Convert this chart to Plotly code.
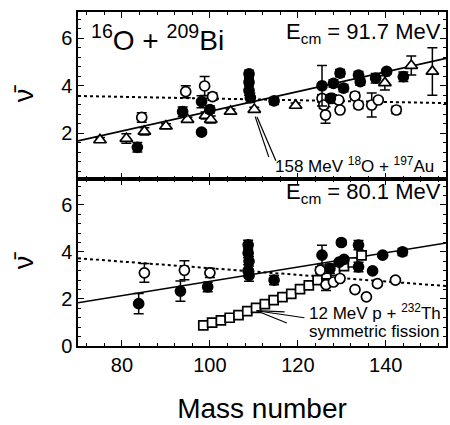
import plotly.graph_objects as go
from plotly.subplots import make_subplots

# ---- 16O + 209Bi at E_cm = 91.7 MeV (upper panel) ----
top_filled_mass = [83.5, 93.8, 98.1, 98.1, 100.0, 108.9, 108.9, 108.9, 109.2, 114.6,
                   125.5, 127.4, 128.1, 129.6, 130.4, 133.8, 134.2, 137.7, 140.2, 144.0]
top_filled_nu = [1.41, 2.91, 3.33, 2.05, 3.00, 4.50, 4.15, 3.80, 3.50, 3.36,
                 4.00, 3.47, 4.10, 4.53, 3.90, 4.45, 4.17, 4.32, 4.60, 4.38]
top_filled_err = [0.2, 0.2, 0.25, 0.1, 0.15, 0.15, 0.15, 0.2, 0.2, 0.15,
                  0.85, 0.1, 0.15, 0.15, 0.15, 0.15, 0.15, 0.2, 0.1, 0.2]

top_open_mass = [84.5, 94.5, 98.8, 100.6, 125.5, 126.3, 125.9, 127.8, 129.3, 129.6,
                 133.0, 133.8, 136.8, 138.3, 142.4]
top_open_nu = [2.67, 3.75, 3.99, 3.54, 3.47, 2.77, 3.19, 3.47, 3.40, 2.98,
               3.57, 3.19, 3.19, 3.40, 2.98]
top_open_err = [0.2, 0.25, 0.4, 0.15, 0.15, 0.35, 0.15, 0.15, 0.1, 0.1,
                0.15, 0.15, 0.5, 0.1, 0.15]

# 158 MeV 18O + 197Au
au_mass = [75.0, 81.0, 85.1, 90.0, 94.9, 99.0, 100.2, 104.7, 110.1, 119.5, 139.8, 145.8, 150.6]
au_nu = [1.72, 1.78, 2.08, 2.30, 2.58, 2.75, 2.58, 2.92, 3.00, 3.17, 4.12, 4.85, 4.60]
au_err = [0.1, 0.2, 0.15, 0.1, 0.1, 0.15, 0.15, 0.1, 0.1, 0.1, 0.3, 0.4, 1.0]

# ---- 16O + 209Bi at E_cm = 80.1 MeV (lower panel) ----
bot_filled_mass = [83.8, 93.3, 99.5, 108.7, 108.7, 108.9, 108.7, 108.9, 114.6, 125.5,
                   127.3, 129.9, 129.4, 130.5, 133.8, 133.8, 137.0, 139.3, 143.8]
bot_filled_nu = [1.80, 2.33, 2.51, 4.30, 3.95, 3.60, 3.20, 3.00, 2.80, 3.86,
                 3.29, 4.40, 3.57, 3.68, 4.29, 3.36, 3.19, 3.86, 4.00]
bot_filled_err = [0.43, 0.43, 0.2, 0.2, 0.2, 0.2, 0.25, 0.25, 0.2, 0.42,
                  0.2, 0.1, 0.1, 0.1, 0.2, 0.2, 0.0, 0.1, 0.15]

bot_open_mass = [85.1, 94.2, 100.0, 125.1, 126.4, 128.1, 129.6, 133.0, 135.6, 138.1, 142.2]
bot_open_nu = [3.11, 3.22, 3.11, 3.22, 2.61, 2.72, 2.87, 2.40, 2.09, 2.65, 2.80]
bot_open_err = [0.4, 0.4, 0.2, 0.15, 0.25, 0.1, 0.1, 0.1, 0.0, 0.1, 0.1]

# 12 MeV p + 232Th, symmetric fission
th_mass = [98.5, 100.5, 102.5, 104.5, 106.5, 108.5, 110.5, 112.5, 114.5, 116.5,
           118.5, 120.5, 122.5, 124.5, 126.5, 128.5, 130.5, 132.5, 134.5]
th_nu = [0.88, 0.99, 1.09, 1.20, 1.31, 1.48, 1.62, 1.78, 1.95, 2.08,
         2.22, 2.42, 2.58, 2.80, 3.00, 3.20, 3.40, 3.55, 3.85]
th_err = [0.12] * len(th_mass)

# straight-line trends (end points at the frame edges)
x_span = [70.0, 153.7]
top_solid = [1.68, 5.15]
top_dotted = [3.57, 3.27]
bot_solid = [1.84, 4.38]
bot_dotted = [3.73, 2.55]

FONT = "Liberation Sans, Arial, Helvetica, sans-serif"
BLACK = "black"

fig = make_subplots(rows=2, cols=1, shared_xaxes=True, vertical_spacing=0)


def err(vals):
    return dict(type="data", array=vals, visible=True, color=BLACK, thickness=1.5, width=5)


def add_points(mass, nu, e, symbol, size, row, fill=True):
    fig.add_trace(go.Scatter(
        x=mass, y=nu, mode="markers", error_y=err(e),
        marker=dict(symbol=symbol, size=size,
                    color=BLACK if fill else "white",
                    line=dict(color=BLACK, width=1.7)),
        showlegend=False, hoverinfo="skip"), row=row, col=1)


def add_line(ys, dash, row):
    fig.add_trace(go.Scatter(
        x=x_span, y=ys, mode="lines",
        line=dict(color=BLACK, width=1.6 if dash == "solid" else 2, dash=dash),
        showlegend=False, hoverinfo="skip"), row=row, col=1)


# upper panel
add_line(top_solid, "solid", 1)
add_line(top_dotted, "dot", 1)
add_points(au_mass, au_nu, au_err, "triangle-up", 11, 1, fill=False)
add_points(top_open_mass, top_open_nu, top_open_err, "circle", 10, 1, fill=False)
add_points(top_filled_mass, top_filled_nu, top_filled_err, "circle", 10, 1, fill=True)

# lower panel
add_line(bot_solid, "solid", 2)
add_line(bot_dotted, "dot", 2)
add_points(th_mass, th_nu, th_err, "square", 9, 2, fill=False)
add_points(bot_open_mass, bot_open_nu, bot_open_err, "circle", 10, 2, fill=False)
add_points(bot_filled_mass, bot_filled_nu, bot_filled_err, "circle", 10, 2, fill=True)

axis_common = dict(
    showline=True, linecolor=BLACK, linewidth=1.5, mirror="ticks",
    ticks="inside", ticklen=6, tickwidth=1.2, tickcolor=BLACK,
    showgrid=False, zeroline=False,
    tickfont=dict(family=FONT, size=20, color=BLACK),
)

fig.update_xaxes(range=x_span, tickvals=[80, 100, 120, 140],
                 minor=dict(dtick=4, tick0=0, ticks="inside", ticklen=3,
                            tickcolor=BLACK, showgrid=False),
                 **axis_common)
fig.update_xaxes(showticklabels=False, row=1, col=1)
fig.update_xaxes(title=dict(text="Mass number", font=dict(family=FONT, size=28, color=BLACK),
                            standoff=24), row=2, col=1)

fig.update_yaxes(minor=dict(dtick=0.4, tick0=0, ticks="inside", ticklen=3,
                            tickcolor=BLACK, showgrid=False),
                 title=dict(text="ν\u0304", font=dict(family=FONT, size=27, color=BLACK),
                            standoff=20),
                 **axis_common)
fig.update_yaxes(range=[0.08, 7.1], tickvals=[2, 4, 6], row=1, col=1)
fig.update_yaxes(range=[0, 7.1], tickvals=[0, 2, 4, 6], row=2, col=1)

txt = dict(family=FONT, color=BLACK)
annotations = [
    dict(x=72.6, y=6.0, xref="x", yref="y", xanchor="left", yanchor="middle",
         text="<sup>16</sup>O + <sup>209</sup>Bi", font=dict(size=28, **txt)),
    dict(x=153.0, y=6.2, xref="x", yref="y", xanchor="right", yanchor="middle",
         text="E<sub>cm</sub> = 91.7 MeV", font=dict(size=22, **txt)),
    dict(x=151.5, y=0.67, xref="x", yref="y", xanchor="right", yanchor="middle",
         text="158 MeV <sup>18</sup>O + <sup>197</sup>Au", font=dict(size=17, **txt)),
    dict(x=153.0, y=6.5, xref="x2", yref="y2", xanchor="right", yanchor="middle",
         text="E<sub>cm</sub> = 80.1 MeV", font=dict(size=22, **txt)),
    dict(x=153.0, y=1.45, xref="x2", yref="y2", xanchor="right", yanchor="middle",
         text="12 MeV p + <sup>232</sup>Th", font=dict(size=17, **txt)),
    dict(x=152.5, y=0.6, xref="x2", yref="y2", xanchor="right", yanchor="middle",
         text="symmetric fission", font=dict(size=17, **txt)),
]
for a in annotations:
    a["showarrow"] = False

# pointer lines from the labels to the reference points
shapes = [
    dict(type="line", xref="x", yref="y", x0=110.3, y0=2.7, x1=113.4, y1=1.0,
         line=dict(color=BLACK, width=1.2)),
    dict(type="line", xref="x", yref="y", x0=110.7, y0=2.7, x1=115.0, y1=0.85,
         line=dict(color=BLACK, width=1.2)),
    dict(type="line", xref="x2", yref="y2", x0=110.6, y0=1.5, x1=121.5, y1=1.2,
         line=dict(color=BLACK, width=1.2)),
    dict(type="line", xref="x2", yref="y2", x0=110.6, y0=1.5, x1=117.0, y1=1.45,
         line=dict(color=BLACK, width=1.2)),
    dict(type="line", xref="x2", yref="y2", x0=110.6, y0=1.5, x1=117.5, y1=0.98,
         line=dict(color=BLACK, width=1.2)),
]

fig.update_layout(
    width=450, height=425,
    margin=dict(l=78, r=2, t=12, b=79),
    paper_bgcolor="white", plot_bgcolor="white",
    font=dict(family=FONT, color=BLACK),
    annotations=annotations, shapes=shapes,
    showlegend=False,
)

fig.write_html("out.html")
